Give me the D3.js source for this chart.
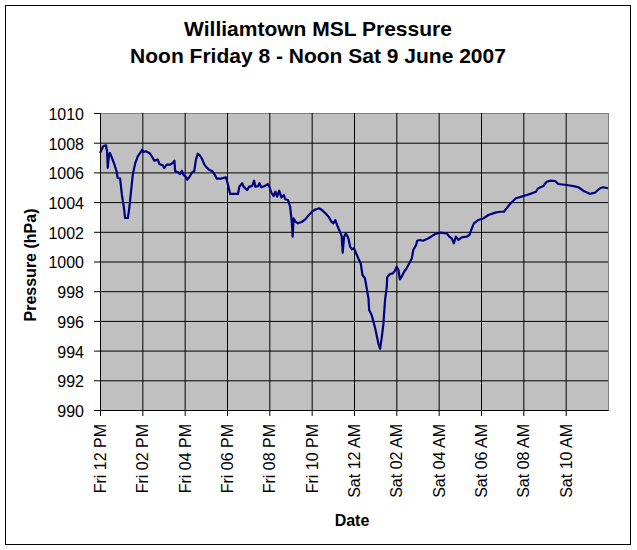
<!DOCTYPE html>
<html>
<head>
<meta charset="utf-8">
<style>
  body { margin: 0; background: #fff; }
  text { font-family: Arial, "Liberation Sans", sans-serif; fill: #000; }
  .title { font-size: 21px; font-weight: bold; }
  .axis-title { font-size: 16px; font-weight: bold; }
  .axis text { font-size: 16px; }
  .axis path, .axis line { stroke: #000; }
  .grid line { stroke: #000; }
  .grid path { display: none; }
  .line { fill: none; stroke: #000080; stroke-width: 2.2; stroke-linejoin: round; }
</style>
<script src="https://d3js.org/d3.v7.min.js"></script>
</head>
<body>
<script>
// minutes after noon Fri 8 June 2007
var minutes = [0, 9, 17, 20, 22, 25, 28, 34, 41, 47, 50, 57, 62, 68, 71, 79, 83, 87, 93, 100,
  107, 114, 119, 123, 130, 140, 147, 154, 164, 168, 178, 182, 189, 198, 206, 211, 213, 220, 227, 232,
  236, 242, 247, 253, 261, 267, 272, 277, 281, 289, 296, 302, 310, 319, 324, 331, 343, 357, 363, 369,
  379, 391, 395, 403, 407, 417, 423, 431, 437, 440, 448, 452, 457, 467, 476, 480, 486, 492, 497, 502,
  508, 514, 521, 525, 533, 539, 544, 546, 549, 554, 561, 573, 582, 592, 601, 612, 622, 629, 639, 648,
  656, 662, 667, 672, 678, 685, 688, 692, 697, 704, 709, 714, 720, 726, 732, 739, 744, 751, 756, 761,
  763, 770, 775, 780, 784, 789, 794, 799, 803, 808, 813, 814, 822, 830, 836, 841, 846, 850, 855, 862,
  869, 877, 884, 888, 896, 899, 907, 916, 931, 950, 964, 983, 990, 997, 1003, 1009, 1016, 1025, 1039, 1047,
  1054, 1060, 1072, 1087, 1101, 1120, 1134, 1145, 1155, 1164, 1179, 1195, 1210, 1224, 1236, 1242, 1257, 1266, 1276, 1290,
  1299, 1323, 1342, 1356, 1370, 1389, 1403, 1417, 1427, 1440];

var pressure = [1007.31, 1007.76, 1007.82, 1007.42, 1006.30, 1007.08, 1007.31, 1006.97, 1006.52, 1006.07, 1005.62, 1005.58, 1004.50, 1003.60, 1002.93, 1002.93, 1003.60, 1004.50, 1005.85, 1006.63,
  1007.08, 1007.31, 1007.53, 1007.37, 1007.42, 1007.31, 1007.08, 1006.79, 1006.86, 1006.57, 1006.48, 1006.30, 1006.52, 1006.52, 1006.63, 1006.79, 1006.07, 1006.03, 1005.89, 1006.11,
  1005.85, 1005.74, 1005.51, 1005.67, 1006.00, 1006.07, 1006.86, 1007.26, 1007.19, 1006.92, 1006.52, 1006.34, 1006.16, 1006.07, 1005.89, 1005.58, 1005.58, 1005.67, 1005.15, 1004.55,
  1004.55, 1004.55, 1005.04, 1005.27, 1005.04, 1004.81, 1005.04, 1005.08, 1005.44, 1005.04, 1005.08, 1005.27, 1005.00, 1005.08, 1005.22, 1005.04, 1004.63, 1004.41, 1004.70, 1004.37,
  1004.77, 1004.32, 1004.48, 1004.19, 1004.14, 1003.69, 1002.57, 1001.67, 1002.90, 1002.68, 1002.57, 1002.68, 1002.84, 1003.13, 1003.35, 1003.52, 1003.58, 1003.47, 1003.25, 1003.02,
  1002.68, 1002.57, 1002.79, 1002.46, 1002.12, 1001.72, 1000.60, 1001.67, 1001.90, 1001.56, 1001.00, 1000.82, 1000.89, 1000.55, 1000.22, 999.88, 999.09, 998.87, 998.20, 997.52,
  996.73, 996.40, 995.95, 995.50, 995.05, 994.49, 994.11, 994.94, 995.72, 997.41, 998.30, 998.94, 999.16, 999.20, 999.38, 999.65, 999.43, 998.80, 998.98, 999.31,
  999.54, 999.88, 1000.22, 1000.77, 1001.11, 1001.40, 1001.45, 1001.40, 1001.56, 1001.85, 1001.94, 1001.90, 1001.67, 1001.56, 1001.23, 1001.67, 1001.45, 1001.63, 1001.67, 1001.78,
  1002.23, 1002.57, 1002.79, 1002.90, 1003.13, 1003.29, 1003.35, 1003.35, 1003.65, 1003.92, 1004.26, 1004.37, 1004.48, 1004.59, 1004.70, 1004.93, 1005.08, 1005.37, 1005.44, 1005.42,
  1005.22, 1005.15, 1005.08, 1005.00, 1004.77, 1004.55, 1004.63, 1004.93, 1005.00, 1004.93];

var yTicks = [990, 992, 994, 996, 998, 1000, 1002, 1004, 1006, 1008, 1010];
var xTickLabels = ["Fri 12 PM", "Fri 02 PM", "Fri 04 PM", "Fri 06 PM", "Fri 08 PM", "Fri 10 PM",
  "Sat 12 AM", "Sat 02 AM", "Sat 04 AM", "Sat 06 AM", "Sat 08 AM", "Sat 10 AM"];
var titleLines = ["Williamtown MSL Pressure", "Noon Friday 8 - Noon Sat 9 June 2007"];

var W = 637, H = 550;
var plotLeft = 100, plotRight = 608, plotTop = 113, plotBottom = 410;
var start = new Date(2007, 5, 8, 12, 0);
var end = d3.timeHour.offset(start, 24);

var data = minutes.map(function(m, i) {
  return { time: d3.timeMinute.offset(start, m), p: pressure[i] };
});
var xTickValues = xTickLabels.map(function(d, i) { return d3.timeHour.offset(start, i * 2); });

var x = d3.scaleTime().domain([start, end]).range([plotLeft, plotRight]);
var y = d3.scaleLinear().domain([990, 1010]).range([plotBottom, plotTop]);

var svg = d3.select("body").append("svg")
  .attr("width", W)
  .attr("height", H);

// outer chart border
svg.append("rect")
  .attr("x", 5.5).attr("y", 5.5)
  .attr("width", 625).attr("height", 539)
  .attr("fill", "#fff").attr("stroke", "#000");

// plot area
svg.append("rect")
  .attr("x", plotLeft + 0.5).attr("y", plotTop + 0.5)
  .attr("width", plotRight - plotLeft).attr("height", plotBottom - plotTop)
  .attr("fill", "#c0c0c0").attr("stroke", "#808080");

// grid lines
svg.append("g")
  .attr("class", "grid")
  .attr("transform", "translate(" + plotLeft + ",0)")
  .call(d3.axisLeft(y).tickValues(yTicks.slice(1, -1)).tickSize(-(plotRight - plotLeft)).tickFormat(""));

svg.append("g")
  .attr("class", "grid")
  .attr("transform", "translate(0," + plotBottom + ")")
  .call(d3.axisBottom(x).tickValues(xTickValues.slice(1)).tickSize(-(plotBottom - plotTop)).tickFormat(""));

// line
var line = d3.line()
  .x(function(d) { return x(d.time); })
  .y(function(d) { return y(d.p); });

svg.append("path")
  .datum(data)
  .attr("class", "line")
  .attr("d", line);

// axes
var yAxis = svg.append("g")
  .attr("class", "axis")
  .attr("transform", "translate(" + plotLeft + ",0)")
  .call(d3.axisLeft(y).tickValues(yTicks).tickSize(6).tickSizeOuter(0).tickPadding(10)
    .tickFormat(d3.format("d")));
yAxis.selectAll("text").attr("dy", "0.4em");

var xAxis = svg.append("g")
  .attr("class", "axis")
  .attr("transform", "translate(0," + plotBottom + ")")
  .call(d3.axisBottom(x).tickValues(xTickValues).tickSize(6).tickSizeOuter(0)
    .tickFormat(function(d, i) { return xTickLabels[i]; }));
xAxis.selectAll("text")
  .attr("x", 0).attr("y", 0)
  .attr("dy", "0.35em")
  .attr("text-anchor", "end")
  .attr("transform", "translate(0,14) rotate(-90)");

// titles
svg.selectAll("text.title")
  .data(titleLines)
  .enter()
  .append("text")
    .attr("class", "title")
    .attr("x", 318)
    .attr("y", function(d, i) { return 36 + i * 27; })
    .attr("text-anchor", "middle")
    .text(function(d) { return d; });

svg.append("text")
  .attr("class", "axis-title")
  .attr("text-anchor", "middle")
  .attr("transform", "translate(36,265) rotate(-90)")
  .text("Pressure (hPa)");

svg.append("text")
  .attr("class", "axis-title")
  .attr("x", 352).attr("y", 526)
  .attr("text-anchor", "middle")
  .text("Date");
</script>
</body>
</html>
